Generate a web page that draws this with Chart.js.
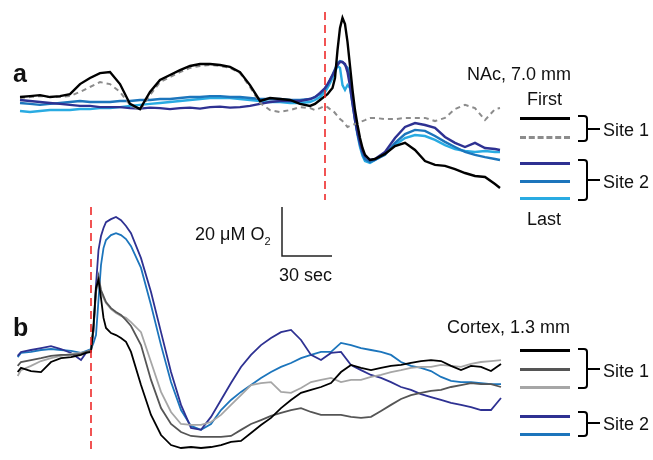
<!DOCTYPE html>
<html>
<head>
<meta charset="utf-8">
<script src="https://cdn.jsdelivr.net/npm/chart.js@4"></script>
<style>
  body { margin: 0; background: #fff; }
  #wrap { position: relative; width: 653px; height: 460px; font-family: "Liberation Sans", Arial, sans-serif; color: #111; }
  #plot { position: absolute; left: 0; top: 0; }
  .txt { position: absolute; font-size: 18px; line-height: 18px; white-space: nowrap; }
  .lab { position: absolute; font-size: 25px; line-height: 25px; font-weight: bold; }
  .key { position: absolute; left: 520px; width: 50px; height: 0; border-top: 3px solid #000; }
  .brace { position: absolute; left: 578px; width: 8px; border: 2px solid #000; border-left: none; border-radius: 0 4px 4px 0; }
  .tick { position: absolute; left: 588px; width: 12px; height: 0; border-top: 2px solid #000; }
</style>
</head>
<body>
<div id="wrap">
  <canvas id="plot" width="653" height="460"></canvas>

  <div class="lab" style="left:13px; top:61px;">a</div>
  <div class="lab" style="left:13px; top:315px;">b</div>

  <div class="txt" style="left:467px; top:65px;">NAc, 7.0 mm</div>
  <div class="txt" style="left:527px; top:90px;">First</div>
  <div class="txt" style="left:527px; top:210px;">Last</div>
  <div class="key" style="top:117px;"></div>
  <div class="key" style="top:136px; border-top:3px dashed #8c8c8c;"></div>
  <div class="key" style="top:162px; border-color:#2e3192;"></div>
  <div class="key" style="top:180px; border-color:#1c75bc;"></div>
  <div class="key" style="top:197px; border-color:#29abe2;"></div>
  <div class="brace" style="top:115px; height:23px;"></div>
  <div class="tick" style="top:128px;"></div>
  <div class="txt" style="left:603px; top:121px;">Site 1</div>
  <div class="brace" style="top:159px; height:38px;"></div>
  <div class="tick" style="top:179px;"></div>
  <div class="txt" style="left:603px; top:173px;">Site 2</div>

  <div class="txt" style="left:195px; top:225px;">20 μM O<sub style="font-size:11px;">2</sub></div>
  <div class="txt" style="left:279px; top:266px;">30 sec</div>

  <div class="txt" style="left:447px; top:318px;">Cortex, 1.3 mm</div>
  <div class="key" style="top:349px;"></div>
  <div class="key" style="top:368px; border-color:#555;"></div>
  <div class="key" style="top:386px; border-color:#a6a6a6;"></div>
  <div class="key" style="top:415px; border-color:#2e3192;"></div>
  <div class="key" style="top:433px; border-color:#1c75bc;"></div>
  <div class="brace" style="top:348px; height:37px;"></div>
  <div class="tick" style="top:368px;"></div>
  <div class="txt" style="left:603px; top:362px;">Site 1</div>
  <div class="brace" style="top:411px; height:22px;"></div>
  <div class="tick" style="top:422px;"></div>
  <div class="txt" style="left:603px; top:415px;">Site 2</div>
</div>

<script>
// panel a: NAc, time in s relative to stimulus, O2 change in uM
var timesA = [-183,-177,-171,-165,-159,-153,-147,-141,-135,-129,-123,-117,-111,-105,-99,-93,-87,-81,-75,-69,
  -63,-57,-51,-45,-39,-33,-27,-21,-15,-9,-6,-3,0,1.5,3,4.5,6,7.5,9,10.5,
  12,13.5,15,16.5,18,19.5,21,22.5,24,27,30,36,42,48,54,60,66,72,78,84,90,96,102,105];

var aBlack = [1.2,1.6,2.0,1.2,1.6,2.4,6.5,9.0,11.0,11.4,6.5,-1.6,-3.7,3.3,8.2,10.2,12.2,13.9,14.7,14.7,
  14.3,13.5,11.4,6.1,-0.4,0.8,0.4,0,-1.6,-2.4,-1.6,0,1.6,2.4,3.7,4.9,9.0,20.4,29.4,33.5,
  31.0,23.7,13.9,4.1,-4.1,-10.2,-15.5,-19.6,-22.4,-24.5,-24.1,-22.0,-18.8,-17.5,-20.4,-24.9,-26.5,-26.9,-28.2,-29.8,
  -31.0,-31.4,-34.3,-35.9];
var aGrayDash = [0.8,1.2,1.6,1.2,1.2,1.6,3.3,5.3,7.3,6.5,3.3,-2.0,-4.1,2.0,7.3,9.4,11.4,13.1,13.9,14.3,
  13.9,13.1,11.0,5.3,-1.2,-4.1,-4.9,-4.1,-2.9,-3.3,-4.1,-3.3,-2.4,-2.9,-3.7,-4.1,-5.3,-6.5,-7.8,-8.6,
  -9.8,-11.0,-10.6,-10.2,-9.8,-9.4,-9.0,-8.6,-8.2,-7.3,-7.3,-7.8,-7.8,-7.3,-7.3,-7.3,-8.6,-7.3,-3.7,-2.0,
  -3.3,-8.2,-3.7,-3.3];
var aDarkBlue = [0,-0.4,-0.8,-1.2,-1.6,-2.0,-2.4,-2.4,-2.9,-2.9,-2.9,-3.3,-3.5,-3.1,-3.3,-3.7,-3.3,-3.1,-3.5,-2.9,
  -2.7,-3.1,-2.9,-2.4,-1.6,-0.8,-0.4,-0.4,-0.4,0.4,1.2,2.9,4.9,6.5,8.2,10.2,12.2,14.3,15.5,15.5,
  14.7,11.4,5.7,-1.6,-8.2,-13.5,-17.5,-20.8,-22.8,-24.5,-24.1,-21.2,-15.5,-11.0,-9.4,-10.2,-11.4,-15.1,-17.5,-19.2,
  -17.5,-19.6,-20.0,-20.4];
var aMidBlue = [-1.2,-1.6,-2.0,-1.6,-1.2,-0.8,-0.4,-0.8,-0.8,-0.8,-0.4,-0.4,0,0,0.4,0.4,0.8,1.2,1.2,1.6,
  1.6,1.2,1.2,0.8,0.4,0.4,0.4,0,0,0.4,1.2,2.4,4.5,6.1,8.2,10.2,12.6,15.1,15.9,15.5,
  14.3,13.1,8.2,0,-7.3,-13.5,-18.4,-22.0,-24.1,-25.3,-24.5,-22.4,-17.5,-13.9,-12.2,-12.6,-14.7,-17.1,-19.2,-21.2,
  -22.4,-23.3,-24.1,-24.5];
var aLightBlue = [-4.5,-4.9,-4.5,-4.1,-4.1,-4.1,-3.7,-3.7,-3.3,-3.3,-2.9,-2.4,-2.0,-1.6,-1.2,-0.8,-0.4,0,0.4,0.8,
  0.8,0.8,0.4,0,-0.4,-0.8,-0.8,-1.2,-1.2,-0.8,0,1.2,3.3,4.9,6.9,9.0,11.4,13.9,13.1,6.1,
  4.1,6.1,4.9,-1.2,-8.2,-14.3,-19.2,-22.8,-24.9,-25.7,-24.5,-21.6,-18.4,-15.5,-14.3,-14.7,-16.3,-18.4,-20.0,-20.8,
  -21.2,-20.8,-21.2,-21.2];

// panel b: cortex
var timesB = [-44,-42,-36,-30,-24,-18,-12,-6,-3,0,1.5,3,4.5,6,7.5,9,12,15,18,21,24,
  30,36,42,48,54,60,66,72,78,84,90,96,102,108,114,120,126,132,138,144,
  150,156,162,168,174,180,186,192,198,204,210,216,222,228,234,240,246];

var bBlack = [-9.0,-7.3,-8.6,-9.0,-4.9,-3.3,-2.9,-2.0,-1.2,-0.8,10.2,25.3,28.6,21.2,13.1,9.0,6.9,6.1,4.9,3.3,-0.8,
  -14.3,-26.5,-34.7,-38.8,-40.0,-39.6,-40.0,-39.6,-38.8,-37.5,-37.1,-33.9,-30.6,-27.7,-23.7,-20.4,-17.5,-16.3,-15.1,-13.5,
  -9.0,-6.1,-7.3,-8.2,-7.3,-6.5,-6.1,-5.3,-4.5,-4.1,-4.5,-6.5,-8.2,-6.5,-6.9,-8.6,-5.7];
var bDarkGray = [-6.5,-4.9,-4.1,-3.3,-2.4,-2.0,-2.0,-1.6,-0.8,-0.4,8.2,24.5,30.2,24.5,22.0,19.6,17.1,15.5,14.3,12.2,9.8,
  2.0,-12.2,-23.7,-30.2,-33.5,-35.1,-35.5,-35.5,-35.5,-35.1,-32.6,-30.2,-28.6,-26.9,-25.7,-24.5,-23.7,-25.3,-26.5,-26.5,
  -26.5,-27.3,-27.7,-27.3,-24.9,-22.4,-20.0,-18.4,-17.5,-16.7,-16.3,-15.1,-14.3,-13.5,-13.9,-13.9,-15.1];
var bLightGray = [-10.6,-8.2,-6.5,-4.5,-3.3,-2.4,-1.6,-1.2,-0.8,0,9.0,23.7,27.7,23.7,21.2,19.2,16.7,15.1,13.9,13.1,11.4,
  7.3,-4.9,-17.1,-25.3,-30.2,-30.6,-30.6,-29.4,-26.5,-22.4,-18.4,-14.3,-13.5,-13.1,-17.1,-17.5,-15.5,-13.1,-12.2,-11.4,
  -13.1,-12.2,-12.2,-11.0,-10.2,-9.0,-8.2,-7.3,-6.9,-6.9,-6.1,-6.5,-6.9,-5.7,-4.9,-4.5,-4.1];
var bDarkBlue = [-2.4,-0.8,0,0.8,1.6,0.4,-1.2,-4.1,-1.2,0,8.2,26.5,40.8,46.5,49.8,52.2,53.4,54.3,53.0,50.6,47.7,
  37.5,23.7,7.3,-9.0,-22.4,-31.8,-32.6,-27.3,-20.4,-13.5,-6.9,-2.0,2.0,4.9,7.3,8.2,4.1,-2.0,-4.1,-1.2,
  -0.8,-6.1,-8.2,-10.2,-11.4,-13.1,-15.1,-16.3,-18.0,-19.2,-20.4,-21.6,-22.4,-23.3,-24.5,-24.5,-19.6];
var bMidBlue = [-2.9,-1.2,-0.8,0,0.4,0,-0.4,-1.2,-0.4,0.4,2.9,6.1,20.4,34.7,41.6,44.9,46.9,47.7,46.9,45.3,42.4,
  33.5,18.4,2.0,-13.1,-24.5,-31.0,-32.6,-30.2,-24.5,-20.4,-17.1,-14.3,-11.4,-9.0,-6.9,-5.3,-3.3,-2.0,-0.8,-0.8,
  2.9,2.0,0.8,0,-0.8,-2.0,-4.9,-6.5,-7.3,-8.6,-11.0,-12.6,-13.1,-13.1,-13.5,-13.9,-13.9];

// stimulus markers and scale bar (20 uM, 30 s)
var stimA = [35.9, -40.8];
var stimB = [58.4, -41.6];
var scaleBar = [[-25.8, -43.7], [-25.8, -63.7], [4.2, -63.7]];

function pts(times, vals) {
    return vals.map((v, i) => ({x: times[i], y: v}));
}

function trace(times, vals, color, ax, ay, width) {
    return {
        data: pts(times, vals),
        borderColor: color,
        borderWidth: width,
        xAxisID: ax,
        yAxisID: ay,
        pointRadius: 0,
        tension: 0,
        fill: false
    };
}

let redA = trace([0, 0], stimA, "#ee2a2a", "xa", "ya", 1.6);
redA.borderDash = [8, 5];
let redB = trace([0, 0], stimB, "#ee2a2a", "xb", "yb", 1.6);
redB.borderDash = [8, 5];
let grayDash = trace(timesA, aGrayDash, "#8c8c8c", "xa", "ya", 2);
grayDash.borderDash = [5, 4];
let bar = {
    data: scaleBar.map(p => ({x: p[0], y: p[1]})),
    borderColor: "#222", borderWidth: 1.5, xAxisID: "xa", yAxisID: "ya", pointRadius: 0, fill: false
};

let chart = new Chart(document.getElementById("plot"), {
    type: "line",
    data: {
        datasets: [
            redA, redB, bar,
            trace(timesA, aBlack, "#000000", "xa", "ya", 2.4),
            grayDash,
            trace(timesA, aDarkBlue, "#2e3192", "xa", "ya", 2.4),
            trace(timesA, aMidBlue, "#1c75bc", "xa", "ya", 2.4),
            trace(timesA, aLightBlue, "#29abe2", "xa", "ya", 2.4),
            trace(timesB, bBlack, "#000000", "xb", "yb", 1.8),
            trace(timesB, bDarkGray, "#555555", "xb", "yb", 1.8),
            trace(timesB, bLightGray, "#a6a6a6", "xb", "yb", 1.8),
            trace(timesB, bDarkBlue, "#2e3192", "xb", "yb", 1.8),
            trace(timesB, bMidBlue, "#1c75bc", "xb", "yb", 1.8)
        ]
    },
    options: {
        responsive: false,
        animation: false,
        devicePixelRatio: 1,
        layout: { padding: 0 },
        plugins: { legend: { display: false }, tooltip: { enabled: false } },
        scales: {
            xa: { type: "linear", display: false, min: -195, max: 196.8 },
            ya: { type: "linear", display: false, min: -146.94, max: 40.82 },
            xb: { type: "linear", display: false, min: -54.6, max: 337.2 },
            yb: { type: "linear", display: false, min: -44.9, max: 142.86 }
        }
    }
});
</script>
</body>
</html>
